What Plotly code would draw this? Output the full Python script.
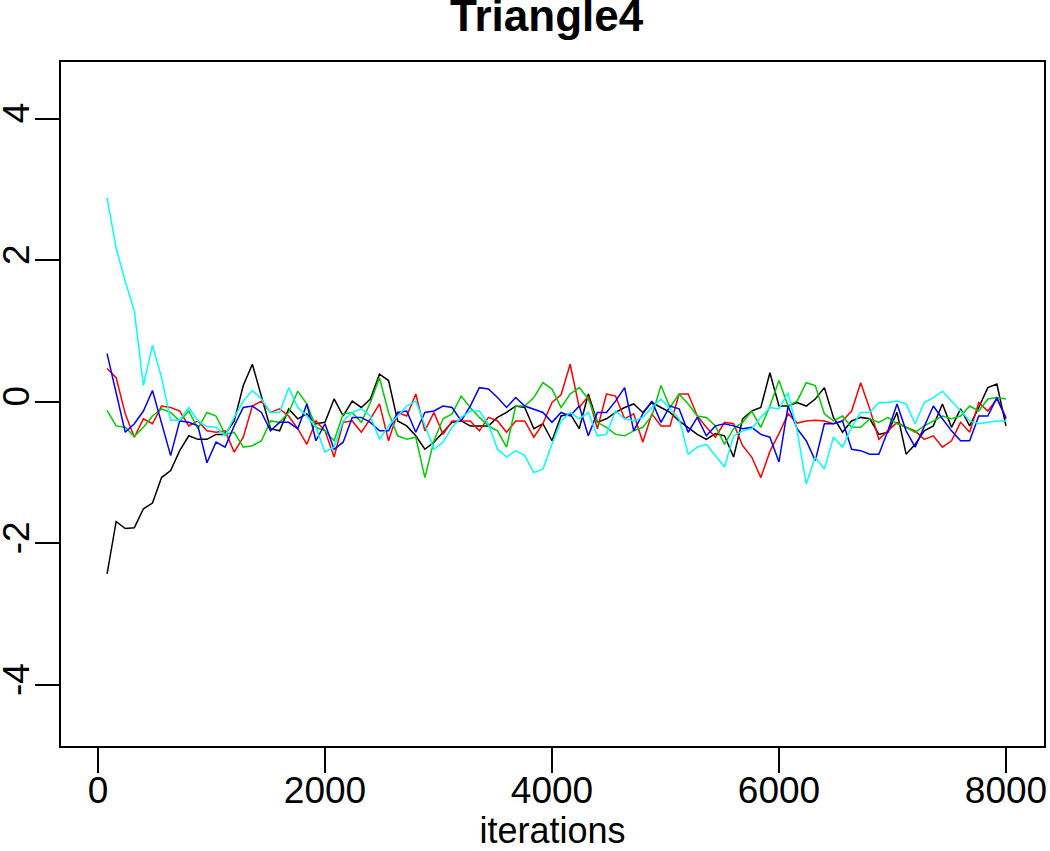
import plotly.graph_objects as go

iterations = [80 * (k + 1) for k in range(100)]

chain_black = [-2.43, -1.69, -1.79, -1.78, -1.51, -1.43, -1.07, -0.97, -0.69, -0.48, -0.53, -0.53, -0.46, -0.46, -0.27, 0.23,
               0.53, 0.06, -0.38, -0.41, -0.10, -0.24, -0.17, -0.31, -0.29, 0.04, -0.20, 0.01, -0.08, 0.04, 0.39, 0.30, -0.27, -0.34,
               -0.48, -0.67, -0.57, -0.43, -0.29, -0.27, -0.34, -0.34, -0.34, -0.22, -0.15, -0.06, -0.08, -0.38, -0.31, -0.55, -0.20,
               -0.17, -0.38, 0.11, -0.29, -0.24, -0.15, -0.08, -0.03, -0.15, -0.01, -0.08, -0.15, -0.27, -0.36, -0.46, -0.53, -0.45,
               -0.48, -0.78, -0.24, -0.13, -0.08, 0.41, -0.06, -0.06, -0.01, -0.06, 0.04, 0.20, -0.22, -0.43, -0.27, -0.22, -0.24,
               -0.46, -0.43, -0.15, -0.74, -0.60, -0.41, -0.34, -0.03, -0.36, -0.10, -0.34, -0.08, 0.20, 0.25, -0.34]

chain_red = [0.47, 0.34, -0.17, -0.50, -0.24, -0.31, -0.06, -0.08, -0.13, -0.34, -0.27, -0.41, -0.43, -0.41, -0.71, -0.50,
             -0.06, 0.01, -0.15, -0.10, -0.20, -0.38, -0.60, -0.27, -0.41, -0.78, -0.29, -0.27, -0.43, -0.24, -0.03, -0.55, -0.15, -0.20,
             0.11, -0.41, -0.15, -0.46, -0.27, -0.27, -0.27, -0.41, -0.22, -0.27, -0.43, -0.27, -0.27, -0.50, -0.31, -0.01, 0.10,
             0.53, -0.08, 0.08, -0.38, 0.11, 0.08, -0.24, -0.17, -0.57, -0.17, -0.34, -0.34, 0.11, 0.11, -0.20, -0.36, -0.50,
             -0.29, -0.31, -0.62, -0.78, -1.07, -0.70, -0.45, -0.17, -0.30, -0.27, -0.26, -0.27, -0.31, -0.27, -0.13, 0.27, -0.10,
             -0.53, -0.41, -0.29, -0.36, -0.41, -0.53, -0.48, -0.64, -0.55, -0.29, -0.43, -0.01, -0.13, 0.04, -0.22]

chain_green = [-0.12, -0.34, -0.36, -0.49, -0.36, -0.20, -0.10, -0.15, -0.27, -0.13, -0.38, -0.15, -0.20, -0.46, -0.43, -0.64,
               -0.62, -0.55, -0.27, -0.29, -0.15, 0.15, -0.03, -0.36, -0.41, -0.55, -0.17, -0.15, -0.29, -0.01, 0.34, -0.15, -0.48, -0.53,
               -0.50, -1.07, -0.55, -0.24, -0.17, 0.08, -0.08, -0.22, -0.34, -0.41, -0.64, -0.06, -0.06, 0.06, 0.27, 0.18, -0.08,
               0.11, 0.20, 0.04, -0.29, -0.36, -0.46, -0.48, -0.41, -0.36, -0.20, 0.23, -0.08, 0.11, -0.03, -0.20, -0.22, -0.34,
               -0.60, -0.38, -0.29, -0.13, -0.36, -0.06, 0.30, -0.06, 0.01, 0.27, 0.23, -0.17, -0.27, -0.20, -0.36, -0.36, -0.24,
               -0.29, -0.22, -0.31, -0.36, -0.43, -0.34, -0.27, -0.20, -0.24, -0.20, -0.06, -0.13, 0.04, 0.06, 0.04]

chain_blue = [0.68, 0.11, -0.43, -0.31, -0.13, 0.16, -0.29, -0.76, -0.27, -0.29, -0.34, -0.86, -0.57, -0.64, -0.34, -0.08,
              -0.06, -0.15, -0.41, -0.29, -0.29, -0.38, -0.03, -0.55, -0.31, -0.67, -0.57, -0.22, -0.22, -0.29, -0.41, -0.41, -0.15, -0.13,
              -0.43, -0.15, -0.13, -0.06, -0.08, -0.27, -0.06, 0.20, 0.18, 0.06, -0.08, 0.06, -0.06, -0.10, -0.15, -0.29, -0.15,
              -0.20, -0.06, -0.48, -0.15, -0.15, 0.01, 0.20, -0.41, -0.17, 0.01, -0.29, -0.06, -0.10, -0.43, -0.22, -0.48, -0.34,
              -0.31, -0.34, -0.38, -0.36, -0.46, -0.50, -0.85, -0.06, -0.38, -0.55, -0.83, -0.31, -0.31, -0.27, -0.67, -0.69, -0.74,
              -0.74, -0.41, -0.03, -0.41, -0.64, -0.34, -0.06, -0.24, -0.41, -0.55, -0.55, -0.20, -0.20, 0.06, -0.24]

chain_cyan = [2.88, 2.17, 1.70, 1.28, 0.23, 0.80, 0.34, -0.26, -0.26, -0.08, -0.27, -0.35, -0.36, -0.48, -0.22, 0.01,
              0.16, 0.04, -0.15, -0.15, 0.20, -0.08, -0.20, -0.36, -0.71, -0.64, -0.27, -0.15, -0.10, -0.20, -0.53, -0.34, -0.20, -0.06,
              0.01, -0.34, -0.67, -0.57, -0.36, -0.22, -0.13, -0.13, -0.31, -0.67, -0.78, -0.69, -0.76, -1.00, -0.95, -0.60, -0.27,
              -0.15, -0.24, -0.15, -0.48, -0.46, -0.13, -0.24, -0.27, -0.22, -0.08, 0.04, -0.10, -0.24, -0.74, -0.64, -0.60, -0.76,
              -0.92, -0.48, -0.41, -0.38, -0.22, -0.08, -0.10, 0.13, -0.41, -1.16, -0.78, -0.95, -0.50, -0.64, -0.36, -0.15, -0.15,
              -0.01, -0.01, 0.01, -0.03, -0.31, -0.01, 0.06, 0.15, 0.01, -0.13, -0.27, -0.31, -0.29, -0.27, -0.27]

chains = [chain_black, chain_red, chain_green, chain_blue, chain_cyan]
colors = ["#000000", "#FF0000", "#00CD00", "#0000FF", "#00FFFF"]

x_ticks = [0, 2000, 4000, 6000, 8000]
y_ticks = [-4, -2, 0, 2, 4]

fig = go.Figure()
for vals, col in zip(chains, colors):
    fig.add_trace(go.Scatter(x=iterations, y=vals, mode="lines",
                             line=dict(color=col, width=1.5), showlegend=False,
                             hoverinfo="skip"))

FONT = "Liberation Sans, Arial, sans-serif"
fig.update_layout(
    width=1050, height=851,
    paper_bgcolor="white", plot_bgcolor="white",
    margin=dict(l=61, r=6, t=62, b=105, autoexpand=False),
    title=dict(text="<b>Triangle4</b>", xref="paper", x=0.494, xanchor="center",
               yref="container", y=0.9812, yanchor="middle",
               font=dict(family=FONT, size=44, color="black")),
    font=dict(family=FONT, size=37, color="black"),
)
fig.update_xaxes(range=[-326, 8335], tickvals=x_ticks, ticktext=[str(v) for v in x_ticks],
                 showgrid=False, zeroline=False, showline=True, mirror=True, automargin=False,
                 linecolor="black", linewidth=2, ticks="outside", ticklen=25,
                 tickwidth=2, tickcolor="black", ticklabelstandoff=-14,
                 title=dict(text="iterations", standoff=12, font=dict(size=36)))
fig.update_yaxes(range=[-4.86, 4.798], tickvals=y_ticks, ticktext=[str(v) for v in y_ticks],
                 showgrid=False, zeroline=False, showline=True, mirror=True, automargin=False,
                 linecolor="black", linewidth=2, ticks="outside", ticklen=24,
                 tickwidth=2, tickcolor="black", tickangle=-90, ticklabelstandoff=-9)

fig.write_html("out.html", config={"displayModeBar": False},
               post_script="document.body.style.margin='0';")
